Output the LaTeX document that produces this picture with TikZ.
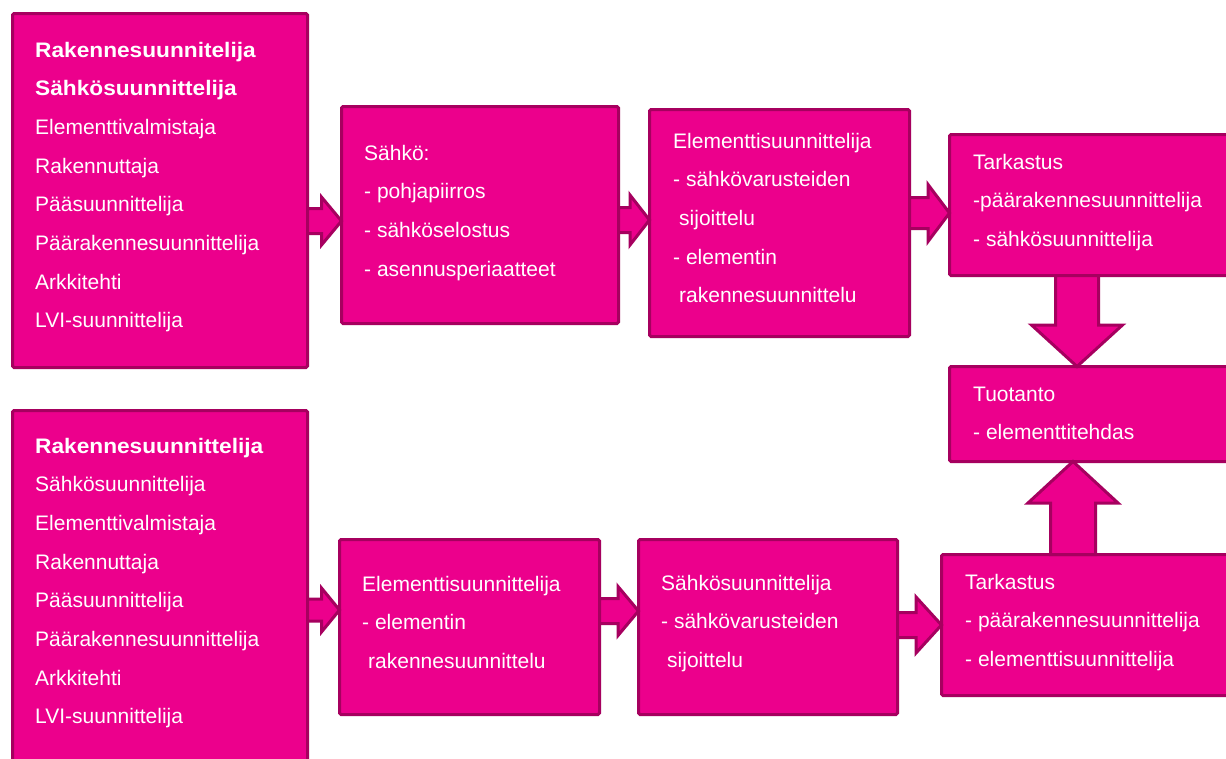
\documentclass[tikz,border=0pt]{standalone}
\usepackage{fontspec}
\setmainfont{Liberation Sans}
\newfontfamily\widesans{Liberation Sans}[FakeStretch=1.08]
\usetikzlibrary{calc}

\definecolor{boxfill}{HTML}{EC008C}
\definecolor{boxline}{HTML}{A6005F}

% bold heading words, slightly wider
\newcommand{\heading}[1]{{\widesans\bfseries #1}}

% left-aligned stack of lines; the baseline is that of the first line
\newcommand{\linestack}[1]{\vtop{\baselineskip=38.7pt\lineskiplimit=-100pt\lineskip=0pt
  \halign{##\hfil\cr #1\crcr}}}

% horizontal block arrow: start, tip, shaft half-height, head half-height, head length
\newcommand{\rightblock}[5]{%
  \draw[blockarrow] ($(#1)+(0,-#3)$) -- ($(#2)+(-#5,-#3)$) -- ($(#2)+(-#5,-#4)$) -- (#2)
    -- ($(#2)+(-#5,#4)$) -- ($(#2)+(-#5,#3)$) -- ($(#1)+(0,#3)$) -- cycle;}
% vertical block arrow: start, tip, shaft half-width, head half-width, head length (signed)
\newcommand{\vertblock}[5]{%
  \draw[blockarrow] ($(#1)+(-#3,0)$) -- ($(#2)+(-#3,#5)$) -- ($(#2)+(-#4,#5)$) -- (#2)
    -- ($(#2)+(#4,#5)$) -- ($(#2)+(#3,#5)$) -- ($(#1)+(#3,0)$) -- cycle;}

\tikzset{
  box/.style={draw=boxline, fill=boxfill, line width=3pt, rounded corners=1.5pt,
    rectangle, inner sep=0pt, outer sep=0pt, anchor=north west},
  txt/.style={text=white, inner sep=0pt, anchor=base west,
    font=\fontsize{21}{38.7}\selectfont},
  blockarrow/.style={draw=boxline, fill=boxfill, line width=3pt, line join=miter},
}

\begin{document}
\begin{tikzpicture}[x=1pt, y=-1pt]
\useasboundingbox (0,0) rectangle (1226,758);
\fill[white] (0,0) rectangle (1226,758);
\clip (0,0) rectangle (1226,758);

% boxes
\node[box, minimum width=295pt, minimum height=354pt] (b1) at (12.5,13.5) {};
\node[box, minimum width=277pt, minimum height=217pt] (b2) at (341.5,106.5) {};
\node[box, minimum width=260pt, minimum height=227pt] (b3) at (649.5,109.5) {};
\node[box, minimum width=300pt, minimum height=141pt] (b4) at (949.5,134.5) {};
\node[box, minimum width=300pt, minimum height=95pt]  (tuot) at (949.5,366.5) {};
\node[box, minimum width=295pt, minimum height=370pt] (b5) at (12.5,410.5) {};
\node[box, minimum width=260pt, minimum height=175pt] (b6) at (339.5,539.5) {};
\node[box, minimum width=259pt, minimum height=175pt] (b7) at (638.5,539.5) {};
\node[box, minimum width=308pt, minimum height=141pt] (b8) at (941.5,554.5) {};

% texts
\node[txt] (t1) at (35,57) {\linestack{\heading{Rakennesuunnitelija}\cr
  \heading{Sähkösuunnittelija}\cr Elementtivalmistaja\cr Rakennuttaja\cr
  Pääsuunnittelija\cr Päärakennesuunnittelija\cr Arkkitehti\cr LVI-suunnittelija}};
\node[txt] (t2) at (364,160) {\linestack{Sähkö:\cr - pohjapiirros\cr
  - sähköselostus\cr - asennusperiaatteet}};
\node[txt] (t3) at (673,148) {\linestack{Elementtisuunnittelija\cr
  - sähkövarusteiden\cr \kern6pt sijoittelu\cr - elementin\cr
  \kern6pt rakennesuunnittelu}};
\node[txt] (t4) at (973,169) {\linestack{Tarkastus\cr
  -päärakennesuunnittelija\cr - sähkösuunnittelija}};
\node[txt] (t5) at (973,401) {\linestack{Tuotanto\cr - elementtitehdas}};
\node[txt] (t6) at (35,453) {\linestack{\heading{Rakennesuunnittelija}\cr
  Sähkösuunnittelija\cr Elementtivalmistaja\cr Rakennuttaja\cr
  Pääsuunnittelija\cr Päärakennesuunnittelija\cr Arkkitehti\cr LVI-suunnittelija}};
\node[txt] (t7) at (362,591) {\linestack{Elementtisuunnittelija\cr
  - elementin\cr \kern6pt rakennesuunnittelu}};
\node[txt] (t8) at (661,590) {\linestack{Sähkösuunnittelija\cr
  - sähkövarusteiden\cr \kern6pt sijoittelu}};
\node[txt] (t9) at (965,589) {\linestack{Tarkastus\cr
  - päärakennesuunnittelija\cr - elementtisuunnittelija}};

% arrow end points on the box borders
\coordinate (a1s) at (b1.east |- 0,221);
\coordinate (a1t) at (b2.west |- 0,221);
\coordinate (a2s) at (b2.east |- 0,220);
\coordinate (a2t) at (b3.west |- 0,220);
\coordinate (a3s) at (b3.east |- 0,213);
\coordinate (a3t) at (b4.west |- 0,213);
\coordinate (a4s) at (b5.east |- 0,610);
\coordinate (a4t) at (b6.west |- 0,610);
\coordinate (a5s) at (b6.east |- 0,611);
\coordinate (a5t) at (b7.west |- 0,611);
\coordinate (a6s) at (b7.east |- 0,625);
\coordinate (a6t) at (b8.west |- 0,625);
\coordinate (dns) at (1077,0 |- b4.south);
\coordinate (dnt) at (1077,0 |- tuot.north);
\coordinate (ups) at (1073,0 |- b8.north);
\coordinate (upt) at (1073,0 |- tuot.south);

% connectors
\rightblock{a1s}{a1t}{12.5}{24}{20}
\rightblock{a2s}{a2t}{12.5}{25}{19.5}
\rightblock{a3s}{a3t}{15.5}{28.5}{21.5}
\rightblock{a4s}{a4t}{11}{22}{18}
\rightblock{a5s}{a5t}{12.5}{24.5}{20.5}
\rightblock{a6s}{a6t}{12.5}{28}{25.5}
\vertblock{dns}{dnt}{21.5}{45.5}{-41.5}
\vertblock{ups}{upt}{22.5}{45}{41.5}
\end{tikzpicture}
\end{document}
